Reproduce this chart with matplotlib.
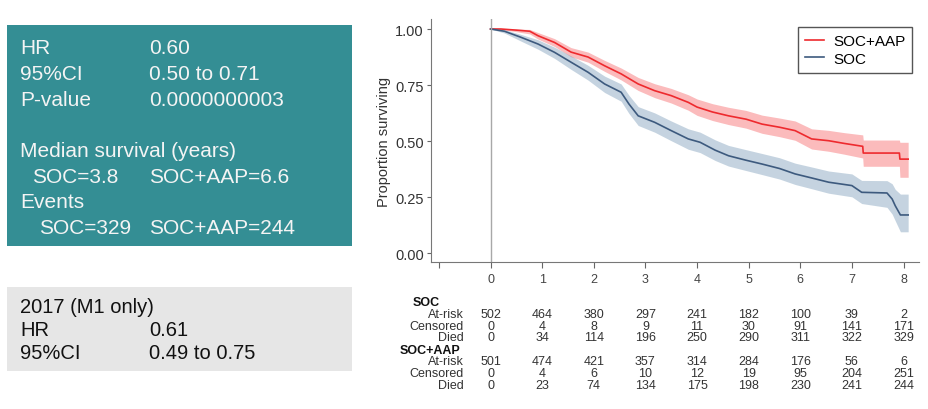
import matplotlib
matplotlib.use("Agg")
from matplotlib import pyplot as plt
from matplotlib.patches import Rectangle
import matplotlib.transforms as mtransforms

plt.rcParams['font.family'] = ['Liberation Sans', 'DejaVu Sans']

# Kaplan-Meier estimates (years, proportion surviving)
aap_t = [0, 0.2, 0.5, 0.76, 0.92, 1.24, 1.56, 1.89, 2.21, 2.53, 2.86, 3.18, 3.5, 3.83, 4.0,
         4.3, 4.61, 4.95, 5.26, 5.6, 5.9, 6.22, 6.55, 6.85, 7.21, 7.22, 7.92, 7.93, 8.09]
aap_s = [1.0, 1.0, 0.995, 0.99, 0.97, 0.94, 0.897, 0.875, 0.836, 0.80, 0.755, 0.725, 0.703, 0.673, 0.652,
         0.63, 0.613, 0.598, 0.576, 0.562, 0.547, 0.51, 0.502, 0.49, 0.477, 0.447, 0.447, 0.42, 0.42]
aap_lo = [1.0, 0.998, 0.988, 0.978, 0.955, 0.922, 0.876, 0.852, 0.811, 0.773, 0.726, 0.694, 0.67, 0.638, 0.615,
          0.592, 0.574, 0.558, 0.535, 0.52, 0.504, 0.465, 0.455, 0.442, 0.425, 0.388, 0.388, 0.339, 0.339]
aap_hi = [1.0, 1.0, 1.0, 0.998, 0.984, 0.957, 0.917, 0.897, 0.86, 0.826, 0.784, 0.756, 0.735, 0.707, 0.688,
          0.667, 0.651, 0.637, 0.616, 0.603, 0.59, 0.555, 0.548, 0.538, 0.528, 0.505, 0.505, 0.495, 0.495]

soc_t = [0, 0.27, 0.59, 0.92, 1.24, 1.56, 1.89, 2.21, 2.53, 2.68, 2.86, 3.18, 3.5, 3.83, 4.06,
         4.35, 4.61, 4.95, 5.26, 5.6, 5.9, 6.22, 6.55, 7.0, 7.19, 7.68, 7.78, 7.84, 7.94, 8.09]
soc_s = [1.0, 0.99, 0.963, 0.933, 0.896, 0.852, 0.807, 0.755, 0.718, 0.666, 0.613, 0.584, 0.547, 0.51, 0.495,
         0.46, 0.435, 0.415, 0.398, 0.378, 0.354, 0.336, 0.317, 0.302, 0.272, 0.269, 0.242, 0.212, 0.171, 0.171]
soc_lo = [1.0, 0.982, 0.946, 0.91, 0.869, 0.82, 0.772, 0.717, 0.678, 0.624, 0.57, 0.54, 0.502, 0.464, 0.449,
          0.414, 0.389, 0.369, 0.351, 0.331, 0.307, 0.288, 0.268, 0.252, 0.222, 0.205, 0.175, 0.145, 0.096, 0.096]
soc_hi = [1.0, 0.997, 0.976, 0.952, 0.919, 0.88, 0.838, 0.79, 0.755, 0.705, 0.654, 0.626, 0.59, 0.555, 0.54,
          0.506, 0.481, 0.462, 0.445, 0.426, 0.402, 0.385, 0.367, 0.354, 0.325, 0.324, 0.31, 0.285, 0.264, 0.264]

# numbers-at-risk table
table_years = [0, 1, 2, 3, 4, 5, 6, 7, 8]
soc_atrisk = [502, 464, 380, 297, 241, 182, 100, 39, 2]
soc_censored = [0, 4, 8, 9, 11, 30, 91, 141, 171]
soc_died = [0, 34, 114, 196, 250, 290, 311, 322, 329]
aap_atrisk = [501, 474, 421, 357, 314, 284, 176, 56, 6]
aap_censored = [0, 4, 6, 10, 12, 19, 95, 204, 251]
aap_died = [0, 23, 74, 134, 175, 198, 230, 241, 244]

teal_lines = [('HR', '0.60'), ('95%CI', '0.50 to 0.71'), ('P-value', '0.0000000003')]
grey_lines = [('2017 (M1 only)', ''), ('HR', '0.61'), ('95%CI', '0.49 to 0.75')]

W, H = 929, 410
fig = plt.figure(figsize=(W / 100, H / 100), dpi=100)


def fy(py):
    return 1 - py / H


# left boxes
fig.add_artist(Rectangle((7 / W, fy(247)), 345 / W, 221 / H, transform=fig.transFigure,
                         facecolor='#348e94', edgecolor='none'))
fig.add_artist(Rectangle((7 / W, fy(372)), 345 / W, 84 / H, transform=fig.transFigure,
                         facecolor='#e6e6e6', edgecolor='none'))

tcol = '#f4f4f4'
fs = 15
for i, (a, b) in enumerate(teal_lines):
    y = fy(54.3 + 25.6 * i)
    fig.text(20 / W, y, a, color=tcol, fontsize=fs, va='baseline')
    fig.text(149 / W, y, b, color=tcol, fontsize=fs, va='baseline')
fig.text(20 / W, fy(157), 'Median survival (years)', color=tcol, fontsize=fs, va='baseline')
fig.text(32 / W, fy(182.6), 'SOC=3.8', color=tcol, fontsize=fs, va='baseline')
fig.text(149 / W, fy(182.6), 'SOC+AAP=6.6', color=tcol, fontsize=fs, va='baseline')
fig.text(20 / W, fy(208.2), 'Events', color=tcol, fontsize=fs, va='baseline')
fig.text(39 / W, fy(233.8), 'SOC=329', color=tcol, fontsize=fs, va='baseline')
fig.text(149 / W, fy(233.8), 'SOC+AAP=244', color=tcol, fontsize=fs, va='baseline')

for i, (a, b) in enumerate(grey_lines):
    y = fy(313.3 + 22.8 * i)
    fig.text(20 / W, y, a, color='#111111', fontsize=14.5, va='baseline')
    fig.text(149 / W, y, b, color='#111111', fontsize=14.5, va='baseline')

# survival plot
ax = fig.add_axes([430.7 / W, fy(263.3), (919 - 430.7) / W, (263.3 - 20) / H])
red = '#ee2a2e'
blue = '#3d5a7e'
ax.fill_between(aap_t, aap_lo, aap_hi, color='#f7686b', alpha=0.45, linewidth=0)
ax.fill_between(soc_t, soc_lo, soc_hi, color='#7f9fbb', alpha=0.45, linewidth=0)
ax.plot(aap_t, aap_s, color=red, lw=1.2, label='SOC+AAP')
ax.plot(soc_t, soc_s, color=blue, lw=1.2, label='SOC')
ax.axvline(0, color='#a8a8a8', lw=1)

ax.set_xlim(-1.159, 8.30)
ax.set_ylim(-0.040, 1.0446)
ax.set_yticks([0, 0.25, 0.5, 0.75, 1.0])
ax.set_yticklabels(['0.00', '0.25', '0.50', '0.75', '1.00'])
ax.set_xticks(range(-1, 9))
ax.set_xticklabels([''] + [str(v) for v in range(0, 9)])
ax.tick_params(axis='y', labelsize=10.5, length=3, pad=2, color='#666666', labelcolor='#333333')
ax.tick_params(axis='x', labelsize=9, length=4.5, pad=3, color='#666666', labelcolor='#444444')
for s in ['top', 'right']:
    ax.spines[s].set_visible(False)
for s in ['left', 'bottom']:
    ax.spines[s].set_color('#777777')
ax.set_ylabel('Proportion surviving', fontsize=10.5, color='#333333', labelpad=3)

leg = ax.legend(loc='upper right', bbox_to_anchor=(912 / W, fy(28)), bbox_transform=fig.transFigure,
                borderaxespad=0, fontsize=11, handlelength=1.2, fancybox=False, framealpha=1,
                borderpad=0.45, labelspacing=0.25, handletextpad=0.6)
leg.get_frame().set_edgecolor('#555555')

# at-risk table under the plot
trans = mtransforms.blended_transform_factory(ax.transData, fig.transFigure)
groups = [('SOC', [('At-risk', soc_atrisk), ('Censored', soc_censored), ('Died', soc_died)], 412.7, 303.3),
          ('SOC+AAP', [('At-risk', aap_atrisk), ('Censored', aap_censored), ('Died', aap_died)], 400, 350.7)]
for name, rows, xl, yl in groups:
    fig.text(xl / W, fy(yl), name, fontsize=9, fontweight='bold', va='center', color='#111111')
    for j, (lab, vals) in enumerate(rows):
        y = fy(yl + 11.7 * (j + 1))
        fig.text(464 / W, y, lab, fontsize=9, ha='right', va='center', color='#333333')
        for t, v in zip(table_years, vals):
            ax.text(t, y, str(v), transform=trans, fontsize=9, ha='center', va='center', color='#333333')

fig.savefig('out.png', dpi=100)
